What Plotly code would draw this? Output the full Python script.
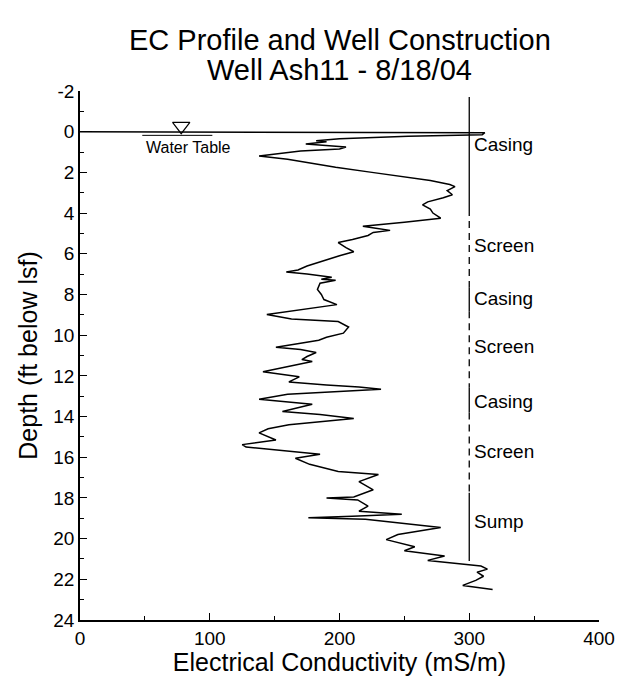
import plotly.graph_objects as go

# EC profile (mS/m) vs depth (ft below lsf)
ec_value = [0, 312, 310, 253, 200, 182, 190, 174, 205, 200, 170, 138, 160, 197, 225, 253,
            270, 285, 289, 283, 287, 280, 268, 264, 270, 272, 278, 250, 218, 228, 239, 226,
            222, 210, 199, 205, 211, 200, 186, 175, 168, 159, 175, 194, 186, 197, 185, 183,
            186, 188, 198, 175, 144, 163, 199, 207, 203, 190, 184, 170, 151, 170, 182, 175,
            171, 179, 160, 141, 169, 161, 190, 215, 232, 200, 160, 138, 179, 156, 185, 211,
            185, 161, 145, 138, 151, 125, 128, 185, 166, 177, 199, 230, 215, 226, 211, 190,
            214, 222, 215, 248, 210, 176, 220, 278, 245, 236, 258, 250, 281, 268, 309, 314,
            306, 311, 305, 295, 318]
ec_depth = [0.0, 0.05, 0.15, 0.23, 0.35, 0.45, 0.5, 0.6, 0.75, 0.85, 0.95, 1.2, 1.35, 1.75, 2.0, 2.25,
            2.4, 2.6, 2.7, 2.9, 3.1, 3.25, 3.45, 3.6, 3.8, 4.0, 4.25, 4.45, 4.65, 4.75, 4.85, 4.95,
            5.1, 5.3, 5.45, 5.7, 5.9, 6.1, 6.4, 6.6, 6.8, 6.9, 7.0, 7.15, 7.25, 7.3, 7.45, 7.75,
            8.0, 8.25, 8.5, 8.7, 8.98, 9.2, 9.33, 9.6, 9.9, 10.1, 10.25, 10.4, 10.6, 10.7, 10.85, 11.05,
            11.2, 11.3, 11.55, 11.8, 12.05, 12.3, 12.45, 12.55, 12.66, 12.75, 12.9, 13.15, 13.4, 13.75, 13.9, 14.1,
            14.25, 14.4, 14.6, 14.8, 15.15, 15.38, 15.5, 15.85, 16.05, 16.35, 16.7, 16.85, 17.2, 17.6, 17.95, 18.0,
            18.1, 18.4, 18.65, 18.8, 18.9, 18.97, 19.05, 19.45, 19.8, 20.05, 20.4, 20.6, 20.85, 21.07, 21.35, 21.5,
            21.65, 21.85, 22.05, 22.3, 22.5]

# Well construction
well_x = 300
solid_tops = [-1.7, 7.65, 12.56, 17.75]
solid_bottoms = [3.8, 8.83, 13.8, 21.1]
dashed_tops = [3.8, 8.83, 13.8]
dashed_bottoms = [7.65, 12.56, 17.75]
labels = ["Casing", "Screen", "Casing", "Screen", "Casing", "Screen", "Sump"]
label_depths = [0.63, 5.6, 8.2, 10.55, 13.25, 15.7, 19.15]

# Water table
wt_x = 78
wt_depth = 0.0
wt_line_x = [48, 102]

x_ticks = [0, 100, 200, 300, 400]
x_tick_text = ["0", "100", "200", "300", "400"]
y_ticks = [-2, 0, 2, 4, 6, 8, 10, 12, 14, 16, 18, 20, 22, 24]
y_tick_text = ["-2", "0", "2", "4", "6", "8", "10", "12", "14", "16", "18", "20", "22", "24"]

title_lines = ["EC Profile and Well Construction", "Well Ash11 - 8/18/04"]

FONT = "Liberation Sans, Arial"

def segs(tops, bottoms):
    xs, ys = [], []
    for t, b in zip(tops, bottoms):
        xs += [well_x, well_x, None]
        ys += [t, b, None]
    return xs, ys

fig = go.Figure()
fig.add_trace(go.Scatter(x=ec_value, y=ec_depth, mode="lines",
                         line=dict(color="black", width=1.5), showlegend=False))
sx, sy = segs(solid_tops, solid_bottoms)
fig.add_trace(go.Scatter(x=sx, y=sy, mode="lines",
                         line=dict(color="black", width=1.3), showlegend=False))
dx, dy = segs(dashed_tops, dashed_bottoms)
fig.add_trace(go.Scatter(x=dx, y=dy, mode="lines",
                         line=dict(color="black", width=1.3, dash="7px,5px"), showlegend=False))
# water table symbol
fig.add_trace(go.Scatter(x=wt_line_x, y=[wt_depth + 0.18] * 2, mode="lines",
                         line=dict(color="black", width=1), showlegend=False))
fig.add_trace(go.Scatter(x=[wt_x], y=[wt_depth - 0.27], mode="markers",
                         marker=dict(symbol="triangle-down-open", size=15,
                                     color="black", line=dict(width=1.2, color="black")),
                         showlegend=False))

for lab, d in zip(labels, label_depths):
    fig.add_annotation(x=well_x + 2, y=d, text=lab, showarrow=False, xanchor="left",
                       font=dict(family=FONT, size=19, color="black"))
fig.add_annotation(x=84, y=0.8, text="Water Table", showarrow=False,
                   font=dict(family=FONT, size=16, color="black"))

# two-line title
for txt, yy in zip(title_lines, [1.0964, 1.0397]):
    fig.add_annotation(x=0.5, y=yy, xref="paper", yref="paper", text=txt, showarrow=False,
                       xanchor="center", yanchor="middle",
                       font=dict(family=FONT, size=29, color="black"))

fig.update_layout(
    width=608, height=668,
    paper_bgcolor="white", plot_bgcolor="white",
    margin=dict(l=72, r=17, t=83, b=56, autoexpand=False),
    font=dict(family=FONT, color="black"),
)
fig.update_xaxes(range=[0, 400], tickvals=x_ticks, ticktext=x_tick_text, ticks="inside", ticklen=7,
                 tickcolor="black", showline=True, linecolor="black", linewidth=1.5,
                 showgrid=False, zeroline=False, tickfont=dict(size=19), automargin=False,
                 ticklabeloverflow="allow",
                 minor=dict(dtick=50, ticks="inside", ticklen=4, tickcolor="black"),
                 title=dict(text="Electrical Conductivity (mS/m)", font=dict(size=25), standoff=11))
fig.update_yaxes(range=[24, -2], tickvals=y_ticks, ticktext=y_tick_text, ticks="inside", ticklen=7,
                 tickcolor="black", showline=True, linecolor="black", linewidth=1.5,
                 showgrid=False, zeroline=False, tickfont=dict(size=19), automargin=False,
                 minor=dict(tickvals=list(range(-1, 24, 2)), ticks="inside", ticklen=4, tickcolor="black"),
                 title=dict(text="Depth (ft below lsf)", font=dict(size=25), standoff=9))

fig.write_html("out.html")
